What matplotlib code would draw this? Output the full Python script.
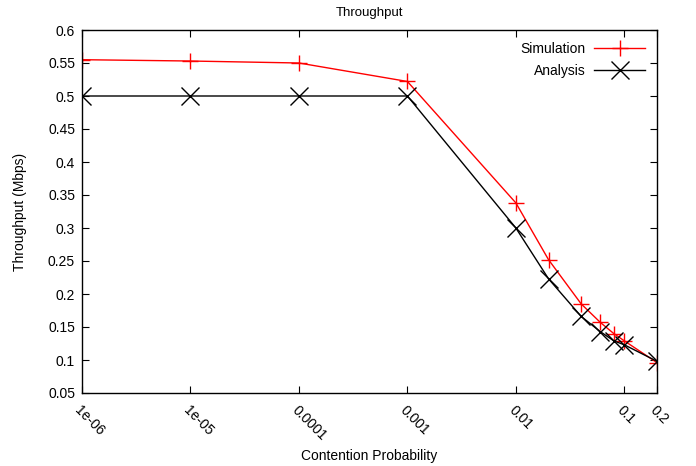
import matplotlib
matplotlib.use('Agg')
import matplotlib.pyplot as plt
from matplotlib.ticker import FixedLocator, FixedFormatter, NullLocator

plt.rcParams['font.family'] = ['Liberation Sans', 'DejaVu Sans']
plt.rcParams['font.size'] = 10

# contention probability
x_vals = [1e-06, 1e-05, 0.0001, 0.001, 0.01, 0.02, 0.04, 0.06, 0.08, 0.1, 0.2]
simulation = [0.555, 0.553, 0.550, 0.522, 0.338, 0.252, 0.185, 0.157, 0.140, 0.129, 0.096]
analysis = [0.500, 0.500, 0.500, 0.500, 0.300, 0.223, 0.166, 0.143, 0.129, 0.123, 0.098]

xticks = [1e-06, 1e-05, 0.0001, 0.001, 0.01, 0.1, 0.2]
xtick_labels = ['1e-06', '1e-05', '0.0001', '0.001', '0.01', '0.1', '0.2']
yticks = [0.05, 0.1, 0.15, 0.2, 0.25, 0.3, 0.35, 0.4, 0.45, 0.5, 0.55, 0.6]
ytick_labels = ['0.05', '0.1', '0.15', '0.2', '0.25', '0.3', '0.35', '0.4', '0.45', '0.5', '0.55', '0.6']

fig = plt.figure(figsize=(6.96, 4.66), dpi=100)
ax = fig.add_axes([82/696, 1 - 393/466, (657 - 82)/696, (393 - 30)/466])

ax.plot(x_vals, simulation, color='red', lw=1.0, marker='+', ms=12, mew=1.0, label='Simulation')
ax.plot(x_vals, analysis, color='black', lw=1.0, marker='x', ms=13, mew=1.0, label='Analysis')

ax.set_xscale('log')
ax.set_xlim(1e-06, 0.2)
ax.set_ylim(0.05, 0.6)
ax.xaxis.set_major_locator(FixedLocator(xticks))
ax.xaxis.set_major_formatter(FixedFormatter(xtick_labels))
ax.xaxis.set_minor_locator(NullLocator())
ax.yaxis.set_major_locator(FixedLocator(yticks))
ax.yaxis.set_major_formatter(FixedFormatter(ytick_labels))

ax.tick_params(direction='in', length=5, width=0.8, top=True, right=True, labelsize=10)
ax.tick_params(axis='y', pad=5)
for lab in ax.get_xticklabels():
    lab.set_rotation(-45)
    lab.set_ha('left')
    lab.set_va('top')
    lab.set_rotation_mode('anchor')
ax.tick_params(axis='x', pad=7)

for s in ax.spines.values():
    s.set_linewidth(1.0)

ax.set_title('Throughput', fontsize=9.5, pad=10)
ax.set_xlabel('Contention Probability', fontsize=10)
ax.xaxis.set_label_coords(0.5, -0.155)
ax.set_ylabel('Throughput (Mbps)', fontsize=10)
ax.yaxis.set_label_coords(-0.096, 0.5)

ax.legend(loc='upper right', frameon=False, markerfirst=False, handlelength=3.7,
          handletextpad=0.6, fontsize=10, borderaxespad=0.45, labelspacing=0.6)

fig.savefig('out.png', dpi=100)
